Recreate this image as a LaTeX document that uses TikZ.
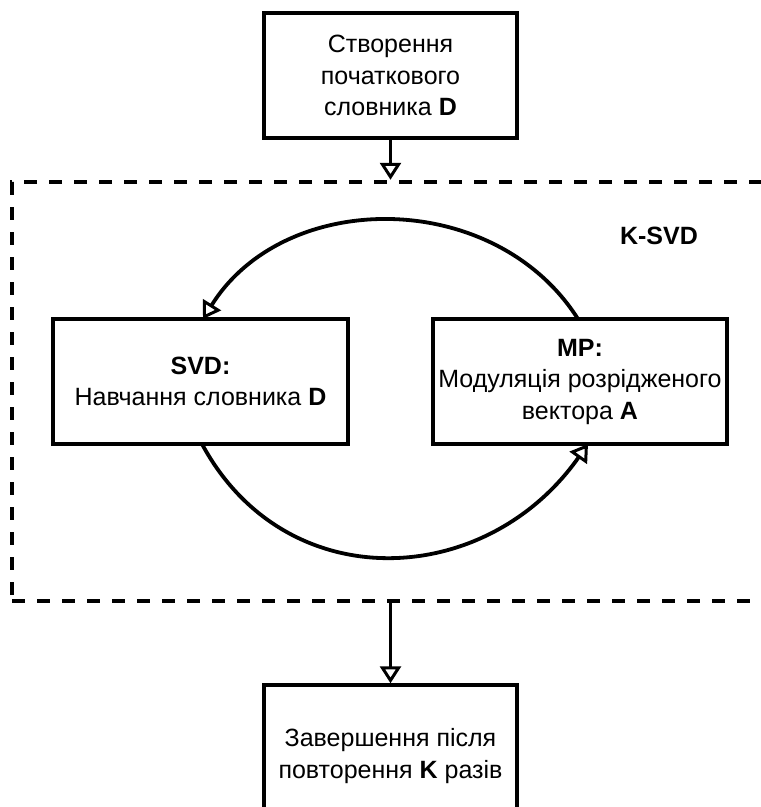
\documentclass[tikz,border=0pt]{standalone}
\usepackage{fontspec}
\setmainfont{Liberation Sans}
\usetikzlibrary{arrows.meta}
\begin{document}
\begin{tikzpicture}[x=1pt,y=-1pt,
  box/.style={draw=black,line width=3.5pt,fill=white,align=center,inner sep=0pt,
    font=\fontsize{25}{31.5}\selectfont},
  conn/.style={line width=3.8pt,-{Triangle[open,length=17pt,width=21pt,line width=3pt]}},
  region/.style={draw=black,line width=4.5pt,dash pattern=on 13pt off 12pt,inner sep=0pt}]
\clip (0,0) rectangle (761,807);
\fill[white] (0,0) rectangle (761,807);
\node[region,minimum width=778pt,minimum height=419pt] (ksvd) at (401,391.5) {};
\node[font=\fontsize{25}{31}\selectfont\bfseries] (lbl) at (659,236) {K-SVD};
\node[box,minimum width=253pt,minimum height=125pt] (top) at (390.5,75.5) {Створення\\початкового\\словника \textbf{D}};
\node[box,minimum width=295pt,minimum height=125pt] (svd) at (200.5,381.5) {\textbf{SVD:}\\Навчання словника \textbf{D}};
\node[box,minimum width=294pt,minimum height=125pt] (mp) at (580,381.5) {\textbf{MP:}\\Модуляція розрідженого\\вектора \textbf{A}};
\node[box,minimum width=253pt,minimum height=142pt] (bot) at (390.5,756) {Завершення після\\повторення \textbf{K} разів};
\coordinate (a1) at (578,319);
\coordinate (a2) at (203,319);
\coordinate (b1) at (202,444);
\coordinate (b2) at (588,444);
\draw[conn] (top.south) -- (top.south |- ksvd.north);
\draw[conn] (ksvd.south -| bot.north) -- (bot.north);
\draw[conn] (a1) .. controls (495,188) and (285,188) .. (a2);
\draw[conn] (b1) .. controls (285,598) and (485,590) .. (b2);
\end{tikzpicture}
\end{document}
